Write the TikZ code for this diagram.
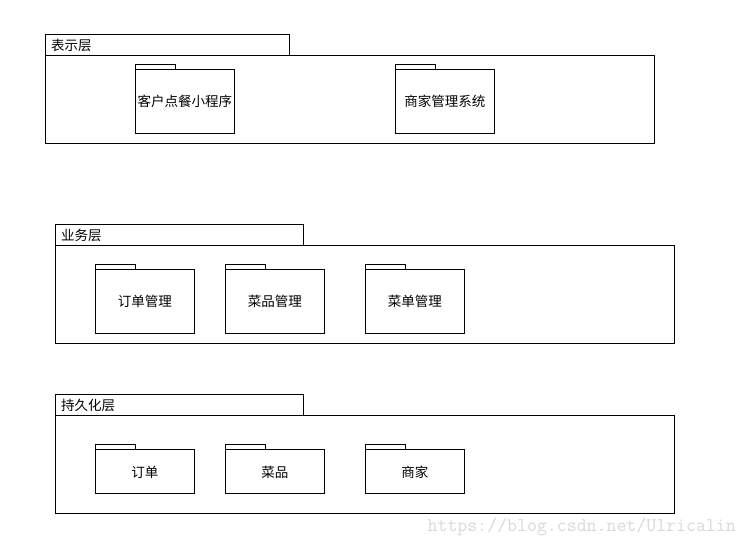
\documentclass[tikz,border=0pt]{standalone}
\usepackage{fontspec}
\newfontfamily\cjk{Noto Sans CJK SC}
\begin{document}
\begin{tikzpicture}[x=1pt,y=-1pt,
  box/.style={draw=black,line width=0.8pt,inner sep=0pt,anchor=north west,fill=white},
  lbl/.style={font=\cjk\fontsize{13.5}{15}\selectfont,inner sep=0pt}]
\useasboundingbox[fill=white] (0,0) rectangle (745,548);
% presentation layer
\node[box,minimum width=244pt,minimum height=21pt] (t1) at (45,34) {};
\node[lbl,anchor=west] (t1l) at (51,45) {表示层};
\node[box,minimum width=609pt,minimum height=88pt] (b1) at (45,55) {};
\node[box,minimum width=40pt,minimum height=5pt] (a1t) at (135,64) {};
\node[box,minimum width=99pt,minimum height=64pt] (a1) at (135,69) {};
\node[lbl] at (a1.center) {客户点餐小程序};
\node[box,minimum width=40pt,minimum height=5pt] (a2t) at (395,64) {};
\node[box,minimum width=99pt,minimum height=64pt] (a2) at (395,69) {};
\node[lbl] at (a2.center) {商家管理系统};
% business layer
\node[box,minimum width=248pt,minimum height=21pt] (t2) at (55,224) {};
\node[lbl,anchor=west] (t2l) at (61,235) {业务层};
\node[box,minimum width=619pt,minimum height=98pt] (b2) at (55,245) {};
\foreach \x/\t/\n in {95/订单管理/c1,225/菜品管理/c2,365/菜单管理/c3}{
  \node[box,minimum width=40pt,minimum height=5pt] (\n t) at (\x,264) {};
  \node[box,minimum width=99pt,minimum height=64pt] (\n) at (\x,269) {};
  \node[lbl] at (\n.center) {\t};
}
% persistence layer
\node[box,minimum width=248pt,minimum height=21pt] (t3) at (55,394) {};
\node[lbl,anchor=west] (t3l) at (61,405) {持久化层};
\node[box,minimum width=619pt,minimum height=98pt] (b3) at (55,415) {};
\foreach \x/\t/\n in {95/订单/d1,225/菜品/d2,365/商家/d3}{
  \node[box,minimum width=40pt,minimum height=5pt] (\n t) at (\x,444) {};
  \node[box,minimum width=99pt,minimum height=44pt] (\n) at (\x,449) {};
  \node[lbl] at ([yshift=-1pt]\n.center) {\t};
}
\node[font=\ttfamily\fontsize{19.3}{21}\selectfont,text=black!15,anchor=east,inner sep=0pt] (wm) at (736,527) {https://blog.csdn.net/Ulricalin};
\end{tikzpicture}
\end{document}
